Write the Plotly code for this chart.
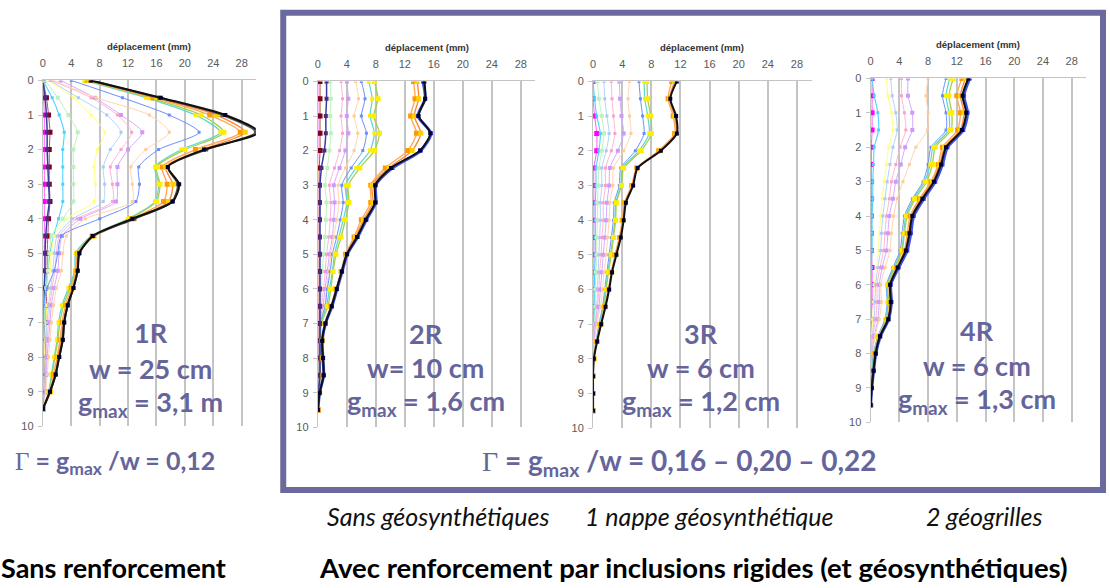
import plotly.graph_objects as go

W, H = 1110, 588

# depth of the measurement points (m)
DEPTH = [0, 0.5, 1, 1.5, 2, 2.5, 3, 3.5, 4, 4.5, 5, 5.5, 6, 6.5, 7, 7.5, 8, 8.5, 9, 9.5]
X_TICKS = [0, 4, 8, 12, 16, 20, 24, 28]
Y_TICKS = [0, 1, 2, 3, 4, 5, 6, 7, 8, 9, 10]

# ---- 1R : sans renforcement (displacement in mm, per loading stage)
r1_magenta = [0, 0.1, 0.2, 0.2, 0.2, 0.2, 0.2, 0.2, 0.2, 0.2, 0.2, 0.2, 0.2, 0.2, 0.1, 0.1, 0.1, 0.1, 0.1, 0]
r1_maroon = [0, 0.5, 0.8, 1.0, 0.9, 0.9, 0.9, 1.0, 0.8, 0.7, 0.6, 0.6, 0.5, 0.5, 0.4, 0.4, 0.3, 0.3, 0.2, 0]
r1_navy = [0, 0.3, 0.5, 0.6, 0.6, 0.7, 0.8, 0.9, 0.6, 0.4, 0.3, 0.3, 0.2, 0.2, 0.2, 0.1, 0.1, 0.1, 0.1, 0]
r1_cyan = [0, 1.3, 2.3, 3.0, 2.8, 2.8, 2.8, 2.8, 2.2, 1.5, 1.0, 0.7, 0.4, 0.2, 0.1, 0.1, 0, 0, 0, 0]
r1_lgreen = [0.3, 2.1, 3.6, 4.9, 4.3, 4.3, 4.3, 4.3, 2.8, 1.2, 0.9, 0.7, 0.5, 0.3, 0.2, 0.1, 0.1, 0, 0, 0]
r1_yellow = [0.8, 4.3, 6.8, 8.7, 7.7, 7.2, 7.4, 7.2, 3.4, 1.6, 1.2, 1.0, 0.8, 0.6, 0.4, 0.3, 0.2, 0.1, 0.1, 0]
r1_lblue = [1.0, 5.0, 9.0, 11.0, 9.5, 8.5, 8.7, 8.5, 4.2, 2.0, 1.6, 1.4, 1.1, 0.8, 0.6, 0.5, 0.4, 0.3, 0.2, 0]
r1_pink = [1.2, 6.8, 10.5, 12.5, 11.0, 9.5, 9.8, 9.8, 4.8, 2.3, 1.9, 1.7, 1.3, 1.0, 0.8, 0.6, 0.5, 0.4, 0.2, 0]
r1_violet = [2.5, 7.3, 11.0, 14.0, 12.0, 10.5, 10.5, 10.3, 5.3, 2.7, 2.3, 2.1, 1.6, 1.2, 1.0, 0.8, 0.6, 0.5, 0.3, 0]
r1_peach = [1.5, 7.5, 15.0, 17.8, 14.5, 12.4, 12.6, 12.6, 6.0, 3.3, 2.8, 2.6, 1.9, 1.5, 1.2, 1.0, 0.8, 0.6, 0.4, 0]
r1_blue = [4.0, 11.2, 17.8, 22.0, 16.3, 13.5, 13.6, 13.1, 8.0, 2.6, 2.1, 1.6, 0.6, 0.1, 0, 0, 0, 0, 0, 0]
r1_turq = [5.8, 14.5, 21.5, 25.0, 19.5, 15.8, 16.3, 15.8, 12.0, 6.8, 4.6, 4.5, 3.6, 2.7, 2.2, 2.0, 1.6, 1.2, 0.8, 0]
r1_green = [6.0, 15.0, 22.3, 25.5, 20.0, 16.0, 16.5, 16.0, 12.2, 7.0, 4.8, 4.6, 3.8, 2.9, 2.4, 2.1, 1.7, 1.3, 0.9, 0]
r1_orange = [6.3, 15.5, 23.5, 27.8, 21.5, 16.8, 17.5, 17.0, 12.5, 7.0, 4.9, 4.7, 4.0, 3.2, 2.7, 2.4, 2.0, 1.5, 1.0, 0]
r1_dorange = [6.5, 16.0, 24.5, 28.5, 22.5, 17.3, 18.3, 17.7, 12.8, 7.2, 5.0, 4.8, 4.2, 3.4, 2.9, 2.6, 2.1, 1.7, 1.1, 0]
r1_gray = [6.7, 16.4, 25.3, 30.0, 23.0, 17.6, 19.0, 18.2, 12.9, 7.1, 5.1, 4.9, 4.3, 3.5, 3.0, 2.8, 2.3, 1.8, 1.0, 0]
r1_black = [6.8, 16.6, 25.7, 30.4, 22.7, 17.6, 19.2, 18.3, 12.6, 7.0, 5.15, 4.9, 4.3, 3.5, 3.0, 2.8, 2.3, 1.8, 1.0, 0]

# ---- 2R : inclusions rigides, sans géosynthétiques
r2_magenta = [0, 0, 0, 0, 0, 0, 0, 0, 0, 0, 0, 0, 0, 0, 0, 0, 0, 0, 0, 0]
r2_maroon = [0.3, 0.3, 0.3, 0.3, 0.3, 0.2, 0.2, 0.2, 0.2, 0.2, 0.2, 0.2, 0.2, 0.2, 0.2, 0.2, 0.2, 0.2, 0.1, 0]
r2_yellow = [0.4, 0.4, 0.3, 0.3, 0.3, 0.1, 0, 0, 0, 0, 0, 0, 0, 0, 0, 0, 0, 0, 0, 0]
r2_navy = [1.2, 1.2, 1.1, 1.1, 0.9, 0.5, 0.3, 0.3, 0.3, 0.3, 0.3, 0.3, 0.3, 0.3, 0.3, 0.3, 0.3, 0.3, 0.1, 0]
r2_lgreen = [1.7, 1.8, 1.7, 1.8, 1.6, 1.3, 1.0, 1.2, 1.1, 1.0, 0.8, 0.6, 0.5, 0.4, 0.2, 0.1, 0.1, 0.1, 0, 0]
r2_pink = [3.2, 3.4, 3.2, 3.4, 3.0, 2.3, 1.6, 1.8, 1.7, 1.5, 1.2, 1.0, 0.8, 0.5, 0.2, 0.1, 0.1, 0.1, 0, 0]
r2_violet = [4.0, 4.2, 4.0, 4.2, 3.8, 3.0, 2.2, 2.3, 2.2, 2.0, 1.6, 1.3, 1.0, 0.7, 0.2, 0.1, 0.1, 0.1, 0, 0]
r2_peach = [5.2, 5.6, 5.0, 5.5, 5.0, 3.8, 2.8, 2.9, 2.6, 2.2, 1.8, 1.5, 1.2, 0.9, 0.2, 0.1, 0.1, 0.1, 0, 0]
r2_blue = [6.0, 6.5, 6.0, 6.7, 6.2, 4.6, 3.3, 3.5, 3.1, 2.6, 2.0, 1.7, 1.3, 1.0, 0.3, 0.2, 0.2, 0.2, 0.1, 0]
r2_turq = [7.0, 7.5, 7.2, 7.8, 7.2, 5.3, 3.8, 4.0, 3.5, 2.9, 2.3, 2.0, 1.6, 1.2, 0.4, 0.3, 0.2, 0.2, 0.1, 0]
r2_green = [7.8, 8.3, 7.7, 8.5, 7.8, 5.8, 4.2, 4.3, 3.8, 3.2, 2.5, 2.1, 1.8, 1.4, 0.5, 0.3, 0.3, 0.3, 0.1, 0]
r2_orange = [13.2, 13.4, 12.8, 13.6, 12.4, 9.3, 7.3, 7.3, 6.0, 5.0, 3.8, 3.2, 2.5, 1.8, 1.0, 0.6, 0.6, 0.7, 0.2, 0]
r2_dorange = [13.7, 13.9, 13.3, 14.2, 13.0, 9.8, 7.5, 7.6, 6.3, 5.2, 3.9, 3.25, 2.55, 1.85, 1.0, 0.6, 0.7, 0.75, 0.25, 0]
r2_halo = [14.5, 14.8, 13.8, 15.6, 14.2, 10.3, 8.0, 8.0, 6.7, 5.5, 4.05, 3.35, 2.65, 1.95, 1.05, 0.6, 0.7, 0.8, 0.25, 0]
r2_black = [14.7, 14.8, 13.9, 15.5, 14.1, 10.1, 7.9, 7.9, 6.6, 5.4, 4.0, 3.3, 2.6, 1.9, 1.05, 0.6, 0.7, 0.8, 0.25, 0]

# ---- 3R : inclusions rigides + 1 nappe géosynthétique
r3_magenta = [0, 0, 0.2, 0.5, 0.5, 0.1, 0.1, 0.1, 0.1, 0.1, 0.1, 0.1, 0.1, 0.1, 0, 0, 0, 0, 0, 0]
r3_cyan = [0, 0.2, 0.5, 1.0, 0.8, 0.4, 0.4, 0.3, 0.3, 0.3, 0.3, 0.2, 0.2, 0.2, 0.1, 0.1, 0, 0, 0, 0]
r3_lgreen = [0.6, 0.8, 1.2, 1.5, 1.2, 0.8, 0.7, 0.6, 0.6, 0.5, 0.5, 0.4, 0.3, 0.3, 0.2, 0.1, 0, 0, 0, 0]
r3_lblue = [1.5, 1.6, 1.9, 2.2, 1.8, 1.2, 1.2, 1.0, 1.0, 0.9, 0.8, 0.7, 0.6, 0.5, 0.3, 0.1, 0, 0, 0, 0]
r3_pink = [2.5, 2.6, 2.8, 3.0, 2.5, 1.7, 1.7, 1.4, 1.4, 1.2, 1.1, 0.9, 0.8, 0.6, 0.3, 0.1, 0, 0, 0, 0]
r3_violet = [3.6, 3.7, 3.9, 4.2, 3.4, 2.3, 2.2, 1.9, 1.8, 1.6, 1.4, 1.2, 1.0, 0.8, 0.4, 0.1, 0, 0, 0, 0]
r3_peach = [5.0, 4.8, 5.0, 5.2, 4.2, 2.8, 2.7, 2.3, 2.2, 2.0, 1.8, 1.5, 1.3, 1.0, 0.5, 0.2, 0, 0, 0, 0]
r3_blue = [6.3, 6.5, 6.8, 7.0, 5.8, 3.8, 3.6, 2.9, 2.8, 2.5, 2.2, 1.9, 1.6, 1.3, 0.8, 0.4, 0, 0, 0, 0]
r3_turq = [7.0, 7.1, 7.5, 7.7, 6.3, 4.0, 3.8, 3.1, 3.0, 2.7, 2.4, 2.0, 1.7, 1.4, 0.9, 0.45, 0.05, 0, 0, 0]
r3_green = [7.4, 7.5, 7.9, 8.0, 6.6, 4.2, 3.9, 3.2, 3.1, 2.8, 2.5, 2.1, 1.8, 1.5, 1.0, 0.5, 0.1, 0, 0, 0]
r3_orange = [10.8, 10.3, 11.0, 11.2, 9.0, 6.0, 5.3, 4.3, 4.0, 3.6, 3.0, 2.5, 2.1, 1.6, 1.05, 0.5, 0.1, 0, 0, 0]
r3_dorange = [11.2, 10.5, 11.2, 11.4, 9.2, 6.1, 5.4, 4.4, 4.1, 3.7, 3.1, 2.55, 2.15, 1.65, 1.1, 0.55, 0.1, 0, 0, 0]
r3_black = [11.5, 10.6, 11.4, 11.5, 9.3, 6.1, 5.5, 4.5, 4.2, 3.8, 3.2, 2.6, 2.2, 1.7, 1.1, 0.55, 0.1, 0, 0, 0]

# ---- 4R : inclusions rigides + 2 géogrilles
r4_magenta = [0.2, 0.2, 0.2, 0.2, 0.1, 0.1, 0.1, 0.1, 0.1, 0.1, 0.1, 0.2, 0.2, 0.2, 0.1, 0.1, 0.1, 0, 0, 0]
r4_cyan = [0.2, 0.5, 1.0, 1.1, 0.5, 0.4, 0.3, 0.3, 0.2, 0.2, 0.2, 0.1, 0.1, 0.1, 0.1, 0, 0, 0, 0, 0]
r4_yellow = [2.2, 2.4, 2.9, 3.1, 2.5, 2.2, 1.9, 1.6, 1.4, 1.2, 1.1, 0.8, 0.5, 0.4, 0.3, 0.1, 0, 0, 0, 0]
r4_lblue = [2.8, 3.0, 3.5, 3.7, 3.1, 2.7, 2.3, 2.0, 1.7, 1.5, 1.4, 1.0, 0.7, 0.6, 0.5, 0.2, 0, 0, 0, 0]
r4_pink = [4.3, 4.3, 4.7, 4.9, 4.1, 3.5, 2.9, 2.6, 2.2, 2.0, 1.8, 1.3, 0.9, 0.9, 0.7, 0.3, 0.1, 0, 0, 0]
r4_violet = [5.2, 5.2, 5.8, 5.8, 4.8, 4.2, 3.5, 3.1, 2.6, 2.4, 2.2, 1.6, 1.2, 1.2, 1.0, 0.5, 0.2, 0.1, 0, 0]
r4_peach = [8.0, 7.7, 8.0, 7.9, 6.3, 5.4, 4.5, 3.7, 3.2, 2.9, 2.7, 2.0, 1.4, 1.5, 1.2, 0.6, 0.3, 0.1, 0, 0]
r4_blue = [10.5, 10.0, 10.5, 10.5, 8.4, 8.0, 7.3, 5.8, 4.7, 4.4, 4.1, 3.1, 2.2, 2.3, 2.0, 1.0, 0.4, 0.2, 0.1, 0]
r4_turq = [11.0, 10.5, 10.9, 10.9, 8.7, 8.3, 7.5, 6.0, 4.9, 4.6, 4.3, 3.25, 2.3, 2.4, 2.1, 1.05, 0.45, 0.25, 0.1, 0]
r4_green = [11.5, 10.9, 11.3, 11.2, 9.0, 8.6, 7.8, 6.2, 5.1, 4.7, 4.4, 3.4, 2.4, 2.5, 2.2, 1.1, 0.5, 0.3, 0.1, 0]
r4_orange = [12.7, 12.0, 12.5, 12.1, 10.0, 9.4, 8.4, 6.8, 5.5, 5.1, 4.7, 3.6, 2.6, 2.7, 2.3, 1.2, 0.6, 0.35, 0.12, 0]
r4_dorange = [13.2, 12.5, 13.0, 12.5, 10.3, 9.6, 8.6, 7.0, 5.7, 5.3, 4.8, 3.7, 2.65, 2.75, 2.4, 1.25, 0.65, 0.38, 0.13, 0]
r4_halo = [13.8, 13.0, 13.5, 12.9, 10.7, 10.0, 9.0, 7.4, 6.0, 5.6, 5.1, 3.9, 2.8, 2.9, 2.5, 1.35, 0.72, 0.42, 0.16, 0]
r4_black = [13.6, 12.8, 13.3, 12.7, 10.5, 9.8, 8.8, 7.2, 5.8, 5.4, 4.9, 3.75, 2.7, 2.8, 2.45, 1.3, 0.7, 0.4, 0.15, 0]

# line / marker style of each loading stage
STYLE = {
    "magenta": dict(line="#FF55FF", marker="#FF00FF", width=1.0, size=5),
    "maroon": dict(line="#A0557F", marker="#800020", width=1.0, size=5),
    "navy": dict(line="#3A3A9A", marker="#4B2C7A", width=1.5, size=4),
    "cyan": dict(line="#4DD2FF", marker="#4DD2FF", width=1.1, size=3),
    "lgreen": dict(line="#BDF2BD", marker="#BDF2BD", width=1.0, size=4),
    "yellow": dict(line="#FFFF80", marker="#FFFF80", width=1.0, size=3),
    "lblue": dict(line="#B4D4F7", marker="#A8CCF5", width=1.0, size=3),
    "pink": dict(line="#FFB6D6", marker="#FF9FCC", width=1.0, size=3),
    "violet": dict(line="#D4AAFF", marker="#CC99FF", width=1.0, size=4),
    "peach": dict(line="#FFD4B0", marker="#FFCC99", width=1.0, size=3),
    "blue": dict(line="#6B8EFF", marker="#6B8EFF", width=1.0, size=3),
    "turq": dict(line="#5CD6D0", marker="#FFEE00", width=1.2, size=4),
    "green": dict(line="#A3D14D", marker="#FFEE00", width=1.3, size=5),
    "orange": dict(line="#FFAA55", marker="#FF9900", width=1.4, size=5),
    "dorange": dict(line="#FF8A33", marker="#FFD000", width=1.4, size=5),
    "gray": dict(line="#555555", marker="#555555", width=2.0, size=4),
    "halo": dict(line="#4050E6", marker="#3340E0", width=3.0, size=4),
    "black": dict(line="#111111", marker="#000033", width=2.0, size=4),
}

PANEL_SERIES = [
    [("magenta", r1_magenta), ("maroon", r1_maroon), ("navy", r1_navy), ("cyan", r1_cyan),
     ("lgreen", r1_lgreen), ("yellow", r1_yellow), ("lblue", r1_lblue), ("pink", r1_pink),
     ("violet", r1_violet), ("peach", r1_peach), ("blue", r1_blue), ("turq", r1_turq),
     ("green", r1_green), ("orange", r1_orange), ("dorange", r1_dorange), ("gray", r1_gray),
     ("black", r1_black)],
    [("magenta", r2_magenta), ("yellow", r2_yellow), ("lgreen", r2_lgreen), ("pink", r2_pink),
     ("violet", r2_violet), ("peach", r2_peach), ("blue", r2_blue), ("turq", r2_turq),
     ("green", r2_green), ("maroon", r2_maroon), ("navy", r2_navy), ("orange", r2_orange),
     ("dorange", r2_dorange), ("halo", r2_halo), ("black", r2_black)],
    [("magenta", r3_magenta), ("cyan", r3_cyan), ("lgreen", r3_lgreen), ("lblue", r3_lblue),
     ("pink", r3_pink), ("violet", r3_violet), ("peach", r3_peach), ("blue", r3_blue),
     ("turq", r3_turq), ("green", r3_green), ("orange", r3_orange), ("dorange", r3_dorange),
     ("black", r3_black)],
    [("magenta", r4_magenta), ("cyan", r4_cyan), ("yellow", r4_yellow), ("lblue", r4_lblue),
     ("pink", r4_pink), ("violet", r4_violet), ("peach", r4_peach), ("blue", r4_blue),
     ("turq", r4_turq), ("green", r4_green), ("orange", r4_orange), ("dorange", r4_dorange),
     ("halo", r4_halo), ("black", r4_black)],
]

# pixel placement of each small chart: x of 0 mm, px per mm, y of depth 0 and depth 10
GEOM = [
    dict(x0=40.0, ppm=7.118, y0=76.0, y10=429.0),
    dict(x0=315.7, ppm=7.27, y0=77.0, y10=430.0),
    dict(x0=591.7, ppm=7.30, y0=77.0, y10=431.0),
    dict(x0=870.0, ppm=7.20, y0=74.0, y10=425.0),
]
X_MAX = 30

PURPLE = "#65659B"
GRID = "#C4C4C4"
TICK_FONT = dict(family="Liberation Sans, Arial", size=11, color="#595959")
TXT_FONT = "Lato, Noto Sans, sans-serif"


def px(x):
    return x / W


def py(y):
    return 1 - y / H


fig = go.Figure()
layout = dict(
    width=W, height=H, margin=dict(l=0, r=0, t=0, b=0),
    paper_bgcolor="white", plot_bgcolor="white", showlegend=False,
)
annotations = []

for i, (g, series) in enumerate(zip(GEOM, PANEL_SERIES)):
    n = "" if i == 0 else str(i + 1)
    xa, ya = "xaxis" + n, "yaxis" + n
    x_right = g["x0"] + X_MAX * g["ppm"]
    layout[xa] = dict(
        domain=[px(g["x0"]), px(x_right)], range=[0, X_MAX], side="top",
        anchor="y" + n, tickvals=X_TICKS, showgrid=True, gridcolor=GRID, gridwidth=1.6,
        showline=True, linecolor=GRID, linewidth=1.2, zeroline=False,
        ticks="", ticklabelstandoff=8, tickfont=TICK_FONT, fixedrange=True,
    )
    layout[ya] = dict(
        domain=[py(g["y10"]), py(g["y0"])], range=[10, 0], anchor="x" + n,
        tickvals=Y_TICKS, showgrid=False, showline=True, linecolor=GRID, linewidth=1.2,
        zeroline=False, ticks="outside", ticklen=4, tickcolor=GRID, tickwidth=1,
        ticklabelstandoff=2, tickfont=TICK_FONT, fixedrange=True,
    )
    for key, vals in series:
        s = STYLE[key]
        fig.add_trace(go.Scatter(
            x=vals, y=DEPTH, xaxis="x" + n, yaxis="y" + n, mode="lines+markers",
            line=dict(color=s["line"], width=s["width"], shape="spline", smoothing=0.7),
            marker=dict(symbol="square", size=s["size"], color=s["marker"]),
            hoverinfo="skip",
        ))
    annotations.append(dict(
        text="<b>déplacement (mm)</b>", xref="paper", yref="paper",
        x=px((g["x0"] + x_right) / 2), y=py(g["y0"] - 35), showarrow=False,
        font=dict(family="Liberation Sans, Arial", size=9.5, color="#333333"),
        xanchor="center", yanchor="middle",
    ))

# case labels inside each chart
CASE_LABELS = [
    ("1R", "w = 25 cm", "g<sub>max</sub> = 3,1 m", 148),
    ("2R", "w= 10 cm", "g<sub>max</sub> = 1,6 cm", 424),
    ("3R", "w = 6 cm", "g<sub>max</sub> = 1,2 cm", 700),
    ("4R", "w = 6 cm", "g<sub>max</sub> = 1,3 cm", 977),
]
CASE_Y = [(333, 334, 334, 331), (370, 369, 369, 367), (406, 405, 405, 403)]
for k, (a, b, c, xc) in enumerate(CASE_LABELS):
    for j, t in enumerate((a, b, c)):
        annotations.append(dict(
            text="<b>" + t + "</b>", xref="paper", yref="paper", x=px(xc), y=py(CASE_Y[j][k]),
            showarrow=False, xanchor="center", yanchor="middle",
            font=dict(family=TXT_FONT, size=27, color=PURPLE),
        ))

GAMMA = '<span style="font-family:Liberation Serif, serif;font-weight:normal">Γ</span>'
annotations += [
    dict(text=GAMMA + "<b> = g<sub>max</sub> /w = 0,12</b>", x=px(112), y=py(466),
         font=dict(family=TXT_FONT, size=25, color=PURPLE)),
    dict(text=GAMMA + "<b> = g<sub>max</sub> /w = 0,16 – 0,20 – 0,22</b>", x=px(678), y=py(465),
         font=dict(family=TXT_FONT, size=28, color=PURPLE)),
    dict(text="<i>Sans géosynthétiques</i>", x=px(436), y=py(521),
         font=dict(family=TXT_FONT, size=25, color="#111111")),
    dict(text="<i>1 nappe géosynthétique</i>", x=px(708), y=py(521),
         font=dict(family=TXT_FONT, size=25, color="#111111")),
    dict(text="<i>2 géogrilles</i>", x=px(984), y=py(521),
         font=dict(family=TXT_FONT, size=25, color="#111111")),
    dict(text="<b>Sans renforcement</b>", x=px(111), y=py(573),
         font=dict(family=TXT_FONT, size=27, color="#000000")),
    dict(text="<b>Avec renforcement par inclusions rigides (et géosynthétiques)</b>",
         x=px(692), y=py(573), font=dict(family=TXT_FONT, size=27.5, color="#000000")),
]
for a in annotations[-7:]:
    a.update(xref="paper", yref="paper", showarrow=False, xanchor="center", yanchor="middle")

layout["annotations"] = annotations
layout["shapes"] = [dict(
    type="rect", xref="paper", yref="paper", x0=px(281), x1=px(1103), y0=py(494), y1=py(7),
    line=dict(color="#6A6A9E", width=6), fillcolor="rgba(0,0,0,0)",
)]
fig.update_layout(**layout)
fig.write_html("out.html")
